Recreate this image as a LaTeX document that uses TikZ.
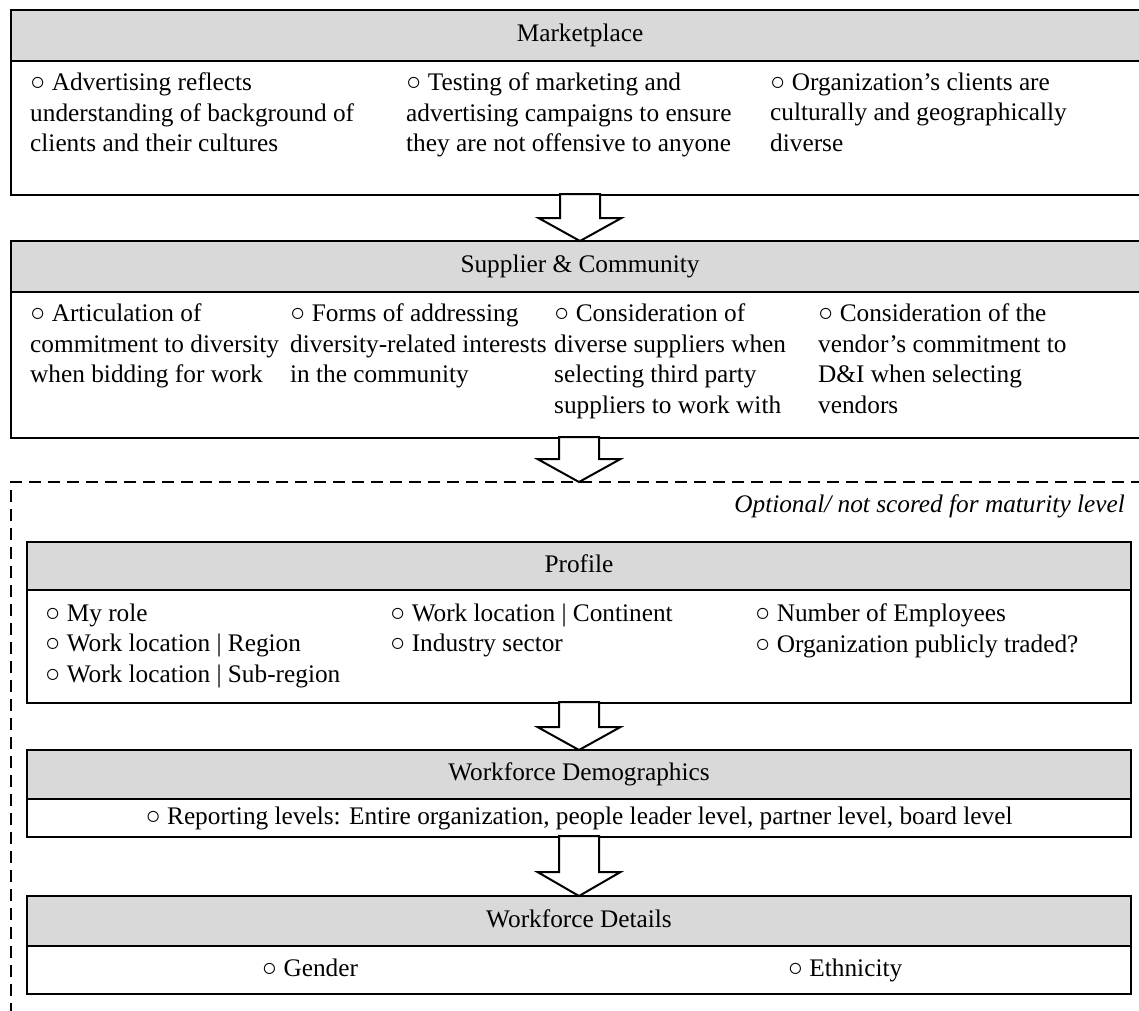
\documentclass[tikz,border=0pt]{standalone}
\usepackage{fontspec}
\setmainfont{Liberation Serif}
\usetikzlibrary{calc}
\definecolor{hdrgray}{HTML}{D9D9D9}
\tikzset{
  hdr/.style={draw, line width=2pt, fill=hdrgray, outer sep=0pt, inner sep=0pt,
    anchor=north west, execute at begin node=\strut},
  bodybox/.style={draw, line width=2pt, outer sep=0pt, inner sep=0pt,
    anchor=north west, execute at begin node=\strut},
  item/.style={align=left, anchor=north west, inner sep=0pt,
    execute at begin node=\strut},
  cell/.style={inner sep=0pt, execute at begin node=\strut},
  barrow/.style={draw, line width=2pt, fill=white, line join=miter},
  optbox/.style={draw, line width=2pt, dash pattern=on 12pt off 7pt,
    outer sep=0pt, inner sep=0pt, anchor=north west},
}
% hollow down arrow: stem starts at #1, tip sits on #2, head height #3
\newcommand\flowarrow[3]{%
  \draw[barrow] let \p1=#2, \p2=#1 in
    (\x1-20pt,\y2+1pt) -- (\x1+20pt,\y2+1pt) -- (\x1+20pt,\y1+#3) --
    (\x1+41.5pt,\y1+#3) -- (\p1) -- (\x1-41.5pt,\y1+#3) --
    (\x1-20pt,\y1+#3) -- cycle;}
\newcommand\bl{○\ }
\begin{document}
\begin{tikzpicture}[x=1pt, y=-1pt, font=\fontsize{25.3}{30.5}\selectfont]
\useasboundingbox (0,0) rectangle (1139,1010);
\clip (0,0) rectangle (1139,1010);

% Marketplace
\node[bodybox, minimum width=1138, minimum height=134] (mktB) at (11,61) {};
\node[hdr, minimum width=1138, minimum height=51] (mktH) at (11,10) {Marketplace};
\node[item] (m1) at (30,72.6) {\bl Advertising reflects\\understanding of background of\\clients and their cultures};
\node[item] (m2) at (406,72.6) {\bl Testing of marketing and\\advertising campaigns to ensure\\they are not offensive to anyone};
\node[item] (m3) at (770,72.6) {\bl Organization’s clients are\\culturally and geographically\\diverse};

% Supplier & Community
\node[bodybox, minimum width=1138, minimum height=146] (supB) at (11,292) {};
\node[hdr, minimum width=1138, minimum height=51] (supH) at (11,241) {Supplier \& Community};
\node[item] (s1) at (30,303.6) {\bl Articulation of\\commitment to diversity\\when bidding for work};
\node[item] (s2) at (290,303.6) {\bl Forms of addressing\\diversity-related interests\\in the community};
\node[item] (s3) at (554,303.6) {\bl Consideration of\\diverse suppliers when\\selecting third party\\suppliers to work with};
\node[item] (s4) at (818,303.6) {\bl Consideration of the\\vendor’s commitment to\\D\&I when selecting\\vendors};

% Optional section
\node[optbox, minimum width=1160, minimum height=560] (optA) at (11,482) {};
\node[anchor=base east, inner sep=0pt] (optT) at (1125,512) {\itshape Optional/ not scored for maturity level};

% Profile
\node[bodybox, minimum width=1104, minimum height=113] (profB) at (27,590) {};
\node[hdr, minimum width=1104, minimum height=48] (profH) at (27,542) {Profile};
\node[item] (p1) at (45,603.6) {\bl My role\\\bl Work location | Region\\\bl Work location | Sub-region};
\node[item] (p2) at (390,603.6) {\bl Work location | Continent\\\bl Industry sector};
\node[item] (p3) at (755,603.6) {\bl Number of Employees\\\bl Organization publicly traded?};

% Workforce Demographics
\node[bodybox, minimum width=1104, minimum height=38] (wdB) at (27,799)
  {\bl Reporting levels: Entire organization, people leader level, partner level, board level};
\node[hdr, minimum width=1104, minimum height=49] (wdH) at (27,750) {Workforce Demographics};

% Workforce Details
\node[bodybox, minimum width=1104, minimum height=48] (wfdB) at (27,946) {};
\node[hdr, minimum width=1104, minimum height=50] (wfdH) at (27,896) {Workforce Details};
\node[cell] (g1) at (310,970) {\bl Gender};
\node[cell] (g2) at (845,970) {\bl Ethnicity};

% Arrows between sections
\flowarrow{(mktB.south)}{(supH.north)}{23pt}
\flowarrow{(supB.south)}{(profH.north |- optA.north)}{23pt}
\flowarrow{(profB.south)}{(wdH.north)}{23pt}
\flowarrow{(wdB.south)}{(wfdH.north)}{24pt}
\end{tikzpicture}
\end{document}
